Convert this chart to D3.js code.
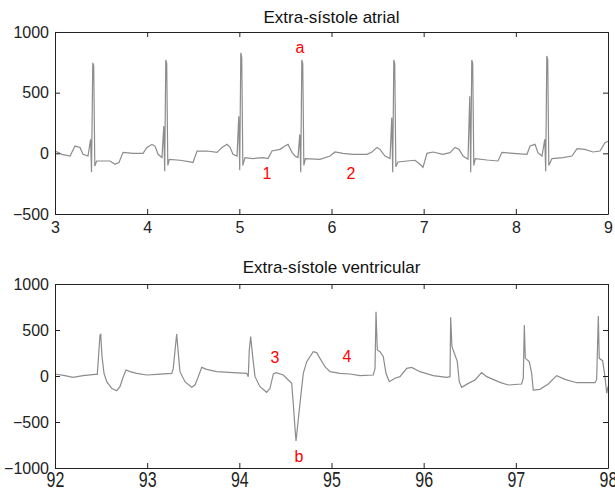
<!DOCTYPE html>
<html>
<head>
<meta charset="utf-8">
<script src="https://cdn.jsdelivr.net/npm/d3@7"></script>
<style>
  body { margin: 0; background: #fff; }
  text { font-family: "Liberation Sans", Arial, sans-serif; }
</style>
</head>
<body>
<div id="my_dataviz"></div>
<script>
// signal: [time (s), amplitude]
var atrialSignal = [
    [3.000, 19], [3.076, -8], [3.163, -22], [3.217, 60], [3.271, 49], [3.304, -8], [3.358, -22],
    [3.386, 115], [3.396, -156], [3.410, 746], [3.420, 720], [3.432, -104],
    [3.452, -63], [3.597, -63], [3.651, -90], [3.694, -76], [3.738, 8], [3.846, 0], [3.955, 0],
    [3.998, 49], [4.052, 74], [4.085, 60], [4.118, -8], [4.161, -35],
    [4.180, 224], [4.190, -148], [4.202, 770], [4.212, 740], [4.224, -100],
    [4.240, -49], [4.356, -57], [4.465, -71], [4.497, -76], [4.541, 19], [4.649, 19], [4.758, 8],
    [4.812, 49], [4.866, 74], [4.899, 49], [4.931, -8], [4.975, -22],
    [4.994, 306], [5.004, -139], [5.016, 828], [5.026, 790], [5.038, -100],
    [5.061, -35], [5.148, -43], [5.257, -35], [5.311, -43], [5.354, 19], [5.441, 33], [5.495, 60],
    [5.528, 74], [5.571, 8], [5.604, -22], [5.636, -35],
    [5.656, 156], [5.666, -156], [5.678, 770], [5.688, 740], [5.700, -100],
    [5.716, -43], [5.875, -49], [5.984, -22], [6.038, 11], [6.125, 0], [6.233, -8], [6.385, -8],
    [6.439, 11], [6.494, 49], [6.526, 33], [6.580, -22], [6.635, -43],
    [6.654, 295], [6.664, -156], [6.676, 770], [6.686, 740], [6.698, -110],
    [6.721, -71], [6.819, -63], [6.906, -57], [6.960, -90], [6.993, -115], [7.036, 0], [7.101, 11],
    [7.210, -8], [7.286, 6], [7.340, 49], [7.383, 33], [7.427, -22], [7.481, -49],
    [7.500, 470], [7.510, -156], [7.522, 770], [7.532, 740], [7.544, -100],
    [7.560, -43], [7.687, -55], [7.806, -63], [7.850, 8], [7.969, 0], [8.121, -8], [8.154, 60],
    [8.208, 74], [8.240, 6], [8.284, -22],
    [8.314, 115], [8.324, -148], [8.336, 803], [8.346, 770], [8.358, -100],
    [8.392, -43], [8.512, -35], [8.609, -22], [8.664, 38], [8.750, 33], [8.837, 11], [8.913, 19],
    [8.967, 88], [9.000, 100]
];

var ventricularSignal = [
    [92.000, 22], [92.108, 4], [92.195, -14], [92.304, 4], [92.434, 18], [92.459, 18],
    [92.488, 446], [92.496, 453], [92.510, 210], [92.532, 29], [92.561, -62], [92.615, -134],
    [92.669, -160], [92.705, -116], [92.735, -25], [92.770, 65], [92.814, 47], [92.886, 29],
    [92.995, 11], [93.103, 18], [93.266, 29], [93.283, 80], [93.320, 457], [93.338, 246],
    [93.356, 47], [93.410, -62], [93.483, -123], [93.519, -98], [93.555, -7], [93.592, 94],
    [93.646, 72], [93.754, 47], [93.934, 36], [94.080, 29], [94.097, -7], [94.108, 283],
    [94.123, 428], [94.145, 210], [94.170, -7], [94.224, -116], [94.297, -177], [94.333, -134],
    [94.369, 22], [94.398, 36], [94.477, 11], [94.568, -80], [94.585, -297], [94.604, -569],
    [94.615, -707], [94.658, -297], [94.694, 29], [94.731, 156], [94.802, 264], [94.839, 254],
    [94.875, 192], [94.929, 101], [94.984, 47], [95.092, 29], [95.201, 22], [95.309, 4],
    [95.453, 11], [95.472, 80], [95.483, 699], [95.497, 283], [95.526, 264], [95.562, 210],
    [95.591, 29], [95.627, -62], [95.689, -25], [95.743, -7], [95.816, 83], [95.870, 94],
    [95.960, 47], [96.104, 4], [96.250, -14], [96.286, -7], [96.293, 638], [96.307, 319],
    [96.340, 228], [96.365, 156], [96.386, -62], [96.412, -123], [96.484, -80], [96.557, -43],
    [96.629, 36], [96.684, -7], [96.828, -69], [96.918, -98], [97.063, -87], [97.081, -20],
    [97.092, 554], [97.103, 192], [97.146, 156], [97.172, 29], [97.189, -152], [97.262, -145],
    [97.352, -87], [97.443, 4], [97.533, -36], [97.660, -73], [97.859, -73], [97.877, -40],
    [97.895, 652], [97.905, 192], [97.942, 167], [97.967, -7], [97.986, -188], [98.000, -116]
];

var atrialTicksX = [3, 4, 5, 6, 7, 8, 9];
var atrialTicksY = [-500, 0, 500, 1000];
var ventricularTicksX = [92, 93, 94, 95, 96, 97, 98];
var ventricularTicksY = [-1000, -500, 0, 500, 1000];

// red markers: [text, time, amplitude]
var atrialMarks = [["a", 5.658, 828], ["1", 5.300, -213], ["2", 6.212, -213]];
var ventricularMarks = [["3", 94.387, 141], ["4", 95.168, 152], ["b", 94.647, -935]];

var width = 553;

var svg = d3.select("#my_dataviz")
    .append("svg")
    .attr("width", 615)
    .attr("height", 494);

function drawPanel(opts) {
    var height = opts.height;
    var g = svg.append("g")
        .attr("transform", "translate(55," + opts.top + ")");

    var x = d3.scaleLinear().domain(opts.xDomain).range([0, width]);
    var y = d3.scaleLinear().domain(opts.yDomain).range([height, 0]);

    // signal
    g.append("path")
        .datum(opts.data)
        .attr("fill", "none")
        .attr("stroke", "#8c8c8c")
        .attr("stroke-width", 1.2)
        .attr("d", d3.line()
            .x(function(d) { return x(d[0]); })
            .y(function(d) { return y(d[1]); }));

    // box axes with inward ticks
    var bottom = g.append("g")
        .attr("transform", "translate(0," + height + ")")
        .call(d3.axisBottom(x).tickValues(opts.xTicks).tickFormat(d3.format("d"))
            .tickSizeInner(-5).tickSizeOuter(0).tickPadding(opts.xPad));
    g.append("g")
        .call(d3.axisTop(x).tickValues(opts.xTicks).tickSizeInner(-5).tickSizeOuter(0).tickFormat(""));
    g.append("g")
        .call(d3.axisLeft(y).tickValues(opts.yTicks).tickFormat(d3.format("d"))
            .tickSizeInner(-5).tickSizeOuter(0).tickPadding(6));
    g.append("g")
        .attr("transform", "translate(" + width + ",0)")
        .call(d3.axisRight(y).tickValues(opts.yTicks).tickSizeInner(-5).tickSizeOuter(0).tickFormat(""));

    g.selectAll(".domain, .tick line").attr("stroke", "#222");
    g.selectAll(".tick text")
        .attr("fill", "#222")
        .style("font-size", "16px");
    bottom.selectAll(".tick text")
        .attr("transform", "scale(1," + opts.xStretch + ")");

    // title
    g.append("text")
        .attr("x", width / 2)
        .attr("y", opts.titleY)
        .attr("text-anchor", "middle")
        .style("font-size", "17px")
        .attr("fill", "#111")
        .text(opts.title);

    // red annotations
    g.selectAll(".mark")
        .data(opts.marks)
        .enter()
        .append("text")
        .attr("x", function(d) { return x(d[1]); })
        .attr("y", function(d) { return y(d[2]); })
        .attr("text-anchor", "middle")
        .attr("fill", "#ff0000")
        .style("font-size", "16px")
        .text(function(d) { return d[0]; });
}

drawPanel({
    top: 32, height: 182,
    xDomain: [3, 9], yDomain: [-500, 1000],
    xTicks: atrialTicksX, yTicks: atrialTicksY, xPad: 8, xStretch: 1,
    data: atrialSignal, marks: atrialMarks,
    title: "Extra-sístole atrial", titleY: -9
});

drawPanel({
    top: 284, height: 184,
    xDomain: [92, 98], yDomain: [-1000, 1000],
    xTicks: ventricularTicksX, yTicks: ventricularTicksY, xPad: 3, xStretch: 1.35,
    data: ventricularSignal, marks: ventricularMarks,
    title: "Extra-sístole ventricular", titleY: -11
});
</script>
</body>
</html>
